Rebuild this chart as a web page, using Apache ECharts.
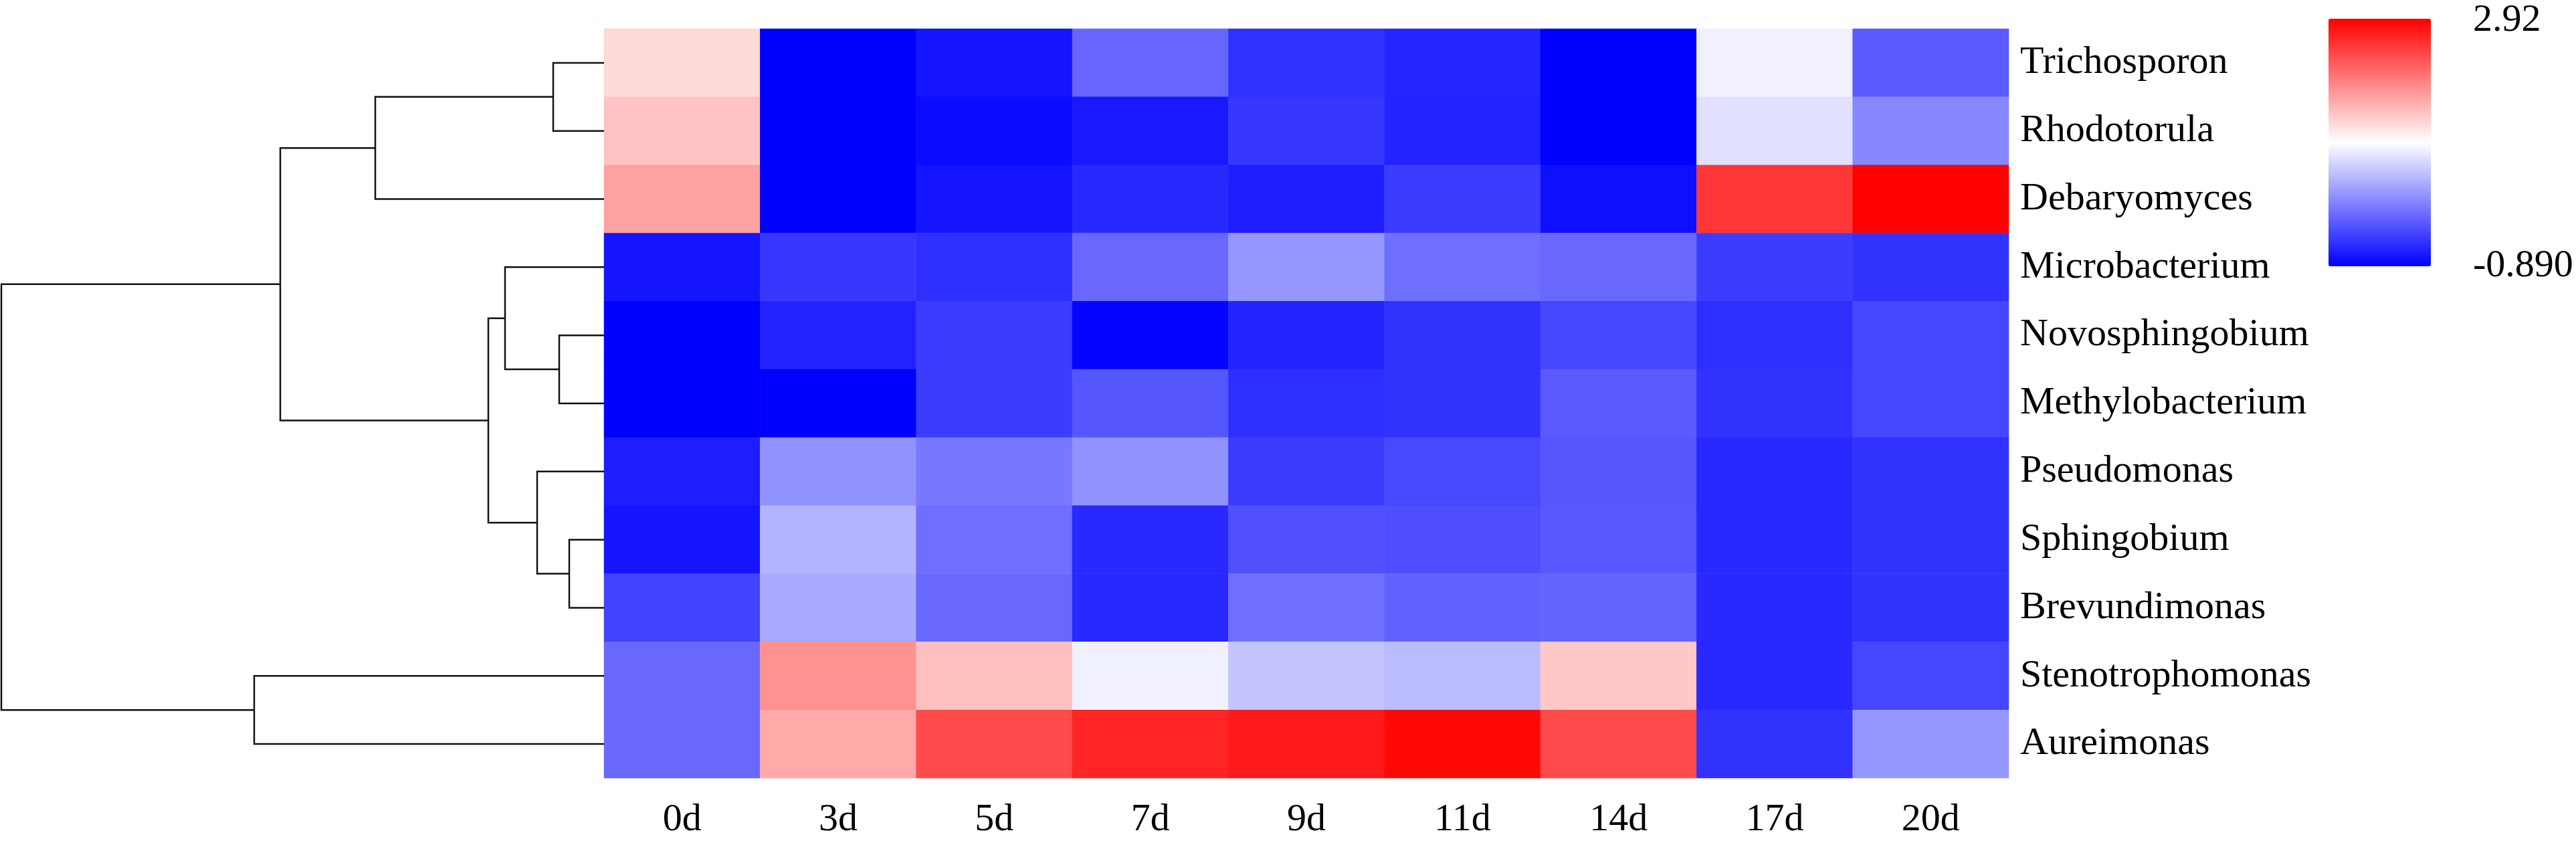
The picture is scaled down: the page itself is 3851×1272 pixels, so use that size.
<!DOCTYPE html>
<html>
<head>
<meta charset="utf-8">
<script src="https://cdn.jsdelivr.net/npm/echarts@6/dist/echarts.min.js"></script>
<style>
html,body{margin:0;padding:0;background:#fff;}
#chart{width:3851px;height:1272px;}
</style>
</head>
<body>
<div id="chart"></div>
<script>
// ---- data ----
const days = ['0d','3d','5d','7d','9d','11d','14d','17d','20d'];
const taxa = ['Trichosporon','Rhodotorula','Debaryomyces','Microbacterium','Novosphingobium','Methylobacterium','Pseudomonas','Sphingobium','Brevundimonas','Stenotrophomonas','Aureimonas'];

const trichosporon     = [1.31, -0.89, -0.74, -0.13, -0.53, -0.61, -0.89, 0.90, -0.22];
const rhodotorula      = [1.46, -0.89, -0.81, -0.70, -0.48, -0.63, -0.89, 0.79, 0.12];
const debaryomyces     = [1.72, -0.89, -0.74, -0.59, -0.67, -0.44, -0.78, 2.51, 2.92];
const microbacterium   = [-0.74, -0.48, -0.55, -0.11, 0.23, -0.07, -0.11, -0.44, -0.52];
const novosphingobium  = [-0.89, -0.63, -0.44, -0.85, -0.63, -0.52, -0.37, -0.55, -0.37];
const methylobacterium = [-0.89, -0.89, -0.44, -0.25, -0.55, -0.52, -0.22, -0.52, -0.37];
const pseudomonas      = [-0.67, 0.19, 0.01, 0.19, -0.44, -0.35, -0.25, -0.59, -0.52];
const sphingobium      = [-0.74, 0.45, -0.07, -0.59, -0.29, -0.31, -0.23, -0.59, -0.52];
const brevundimonas    = [-0.40, 0.38, -0.11, -0.59, -0.05, -0.16, -0.14, -0.59, -0.52];
const stenotrophomonas = [-0.11, 1.84, 1.49, 0.90, 0.57, 0.51, 1.43, -0.59, -0.37];
const aureimonas       = [-0.11, 1.66, 2.36, 2.64, 2.73, 2.86, 2.36, -0.52, 0.23];

const rows = [trichosporon, rhodotorula, debaryomyces, microbacterium, novosphingobium,
  methylobacterium, pseudomonas, sphingobium, brevundimonas, stenotrophomonas, aureimonas];

const scaleMin = -0.89;
const scaleMax = 2.92;
const scaleLabels = ['2.92', '-0.890'];

// dendrogram merges: [childA, childB, height]; leaves are 0..10, merged nodes 11..
const merges = [
  [7, 8, 52],
  [4, 5, 67],
  [0, 1, 76],
  [6, 11, 100],
  [3, 12, 148],
  [15, 14, 173],
  [13, 2, 342],
  [17, 16, 484],
  [9, 10, 523],
  [18, 19, 901]
];

// ---- build ----
const heatData = [];
rows.forEach((r, yi) => r.forEach((v, xi) => heatData.push([xi, yi, v])));

const nodeY = taxa.map((_, i) => i);
const nodeH = taxa.map(() => 0);
const links = [];
merges.forEach(m => {
  const [a, b, h] = m;
  links.push({coords: [[nodeH[a], nodeY[a]], [h, nodeY[a]], [h, nodeY[b]], [nodeH[b], nodeY[b]]]});
  nodeY.push((nodeY[a] + nodeY[b]) / 2);
  nodeH.push(h);
});
const rootH = merges[merges.length - 1][2];

const FONT = '"Liberation Serif", "Times New Roman", serif';
const FS = 58;

const chart = echarts.init(document.getElementById('chart'), null, {renderer: 'canvas'});
chart.setOption({
  animation: false,
  backgroundColor: '#ffffff',
  grid: [
    {left: 903, top: 43, width: 2100, height: 1120},
    {left: 2, top: 43, width: 901, height: 1120}
  ],
  xAxis: [
    {type: 'category', gridIndex: 0, data: days, position: 'bottom',
     axisLine: {show: false}, axisTick: {show: false}, splitLine: {show: false},
     axisLabel: {fontFamily: FONT, fontSize: FS, color: '#000', margin: 34}},
    {type: 'value', gridIndex: 1, min: 0, max: rootH, inverse: true, show: false}
  ],
  yAxis: [
    {type: 'category', gridIndex: 0, data: taxa, inverse: true, position: 'right',
     axisLine: {show: false}, axisTick: {show: false}, splitLine: {show: false},
     axisLabel: {fontFamily: FONT, fontSize: FS, color: '#000', margin: 17}},
    {type: 'value', gridIndex: 1, min: -0.5, max: taxa.length - 0.5, inverse: true, show: false}
  ],
  visualMap: {
    type: 'continuous', seriesIndex: 0, min: scaleMin, max: scaleMax,
    calculable: false, hoverLink: false, orient: 'vertical',
    left: 3481, top: 28, itemWidth: 153, itemHeight: 370, padding: 0,
    text: null, showLabel: false,
    inRange: {color: ['#0000ff', '#ffffff', '#ff0000']}
  },
  graphic: [
    {type: 'text', left: 3697, top: 2, style: {text: scaleLabels[0], font: FS + 'px ' + FONT, fill: '#000'}},
    {type: 'text', left: 3697, top: 369, style: {text: scaleLabels[1], font: FS + 'px ' + FONT, fill: '#000'}}
  ],
  series: [
    {type: 'heatmap', xAxisIndex: 0, yAxisIndex: 0, data: heatData,
     itemStyle: {borderWidth: 0}, emphasis: {disabled: true}},
    {type: 'lines', coordinateSystem: 'cartesian2d', xAxisIndex: 1, yAxisIndex: 1,
     polyline: true, data: links, silent: true,
     lineStyle: {color: '#111', width: 2.5, opacity: 1}}
  ]
});
</script>
</body>
</html>
